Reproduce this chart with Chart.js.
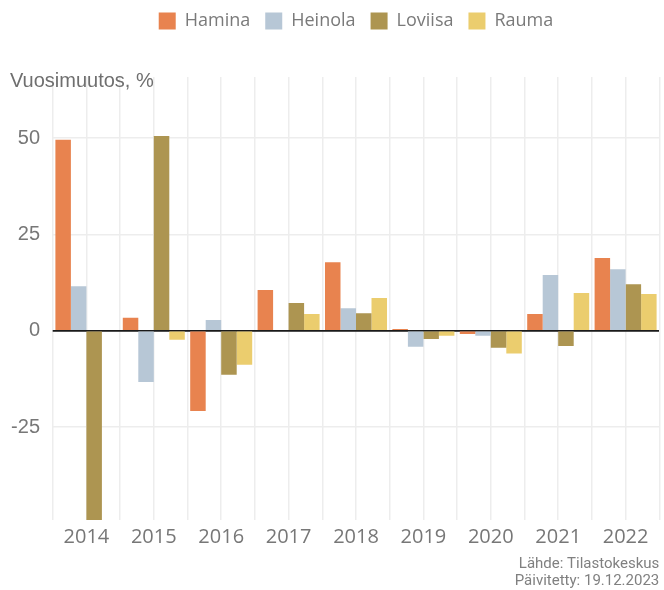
<!DOCTYPE html>
<html>
<head>
<meta charset="utf-8">
<script src="https://cdn.jsdelivr.net/npm/chart.js@4.4.1/dist/chart.umd.min.js"></script>
<style>
html,body{margin:0;padding:0;background:#fff;}
#wrap{width:664px;height:590px;}
</style>
</head>
<body>
<div id="wrap"><canvas id="c" width="664" height="590"></canvas></div>
<script>
const years = ['2014','2015','2016','2017','2018','2019','2020','2021','2022'];
const hamina  = [49.6, 3.4, -20.8, 10.6, 17.8, 0.5, -0.8, 4.4, 18.9];
const heinola = [11.6, -13.3, 2.8, null, 5.9, -4.1, -1.3, 14.5, 16.0];
const loviisa = [-55, 50.6, -11.4, 7.2, 4.6, -2.1, -4.4, -3.9, 12.1];
const rauma   = [null, -2.3, -8.8, 4.4, 8.5, -1.3, -5.9, 9.8, 9.6];
const yTicks = [-25, 0, 25, 50];
const seriesNames = ['Hamina', 'Heinola', 'Loviisa', 'Rauma'];
const seriesColors = ['#E8834F', '#B7C7D6', '#AD9551', '#EBCD6E'];
const yAxisTitle = 'Vuosimuutos, %';
const footer = ['Lähde: Tilastokeskus', 'Päivitetty: 19.12.2023'];

const values = [hamina, heinola, loviisa, rauma];
const gridCol = '#ededed';

new Chart(document.getElementById('c'), {
  type: 'bar',
  data: {
    labels: years,
    datasets: values.map((v, i) => ({
      label: seriesNames[i],
      data: v,
      backgroundColor: seriesColors[i],
      borderWidth: 0,
      categoryPercentage: 0.92,
      barPercentage: 1.0,
      xAxisID: 'x',
      yAxisID: 'y'
    }))
  },
  options: {
    responsive: false,
    animation: false,
    devicePixelRatio: 1,
    layout: { padding: { left: 10, right: 4.7, top: -3, bottom: 0 } },
    plugins: {
      tooltip: { enabled: false },
      legend: {
        position: 'top',
        fullSize: false,
        weight: 3000,
        labels: {
          boxWidth: 17, boxHeight: 17, padding: 15,
          color: '#7a7a7a',
          font: { family: 'Open Sans', size: 18 }
        }
      },
      title: {
        display: true,
        text: yAxisTitle,
        position: 'top',
        align: 'start',
        weight: 1000,
        color: '#6f6f6f',
        font: { family: 'Liberation Sans', size: 20, weight: 'normal' },
        padding: { top: 29, bottom: -16 }
      },
      subtitle: {
        display: true,
        text: footer,
        position: 'bottom',
        align: 'end',
        color: '#808080',
        font: { family: 'Liberation Sans Narrow, Roboto', size: 15, lineHeight: 1.15 },
        padding: 0
      }
    },
    scales: {
      x: {
        type: 'category',
        position: 'bottom',
        offset: true,
        grid: { offset: true, color: gridCol, lineWidth: 1.5, drawTicks: false },
        border: { display: false },
        ticks: { color: '#777', font: { family: 'Open Sans', size: 20 }, padding: 5, maxRotation: 0 },
        afterFit: (a) => { a.height = 35.5; }
      },
      x2: {
        type: 'category',
        labels: years,
        position: 'bottom',
        offset: true,
        grid: { offset: false, color: gridCol, lineWidth: 1.5, drawTicks: false },
        border: { display: false },
        ticks: { display: false },
        afterFit: (a) => { a.height = 0; }
      },
      y: {
        position: 'left',
        min: -49.1,
        max: 65.9,
        afterBuildTicks: (a) => { a.ticks = yTicks.map(v => ({ value: v })); },
        grid: { color: gridCol, lineWidth: 1.5, drawTicks: false },
        border: { display: false },
        ticks: { color: '#777', font: { family: 'Liberation Sans', size: 20 }, padding: 12.7 },
        afterFit: (a) => { a.width = 42.7; }
      },
      y0: {
        position: 'right',
        min: -49.1,
        max: 65.9,
        z: 1,
        afterBuildTicks: (a) => { a.ticks = [{ value: 0 }]; },
        grid: { color: '#1a1a1a', lineWidth: 1.8, drawTicks: false },
        border: { display: false },
        ticks: { display: false },
        afterFit: (a) => { a.width = 0; }
      }
    }
  }
});
</script>
</body>
</html>
